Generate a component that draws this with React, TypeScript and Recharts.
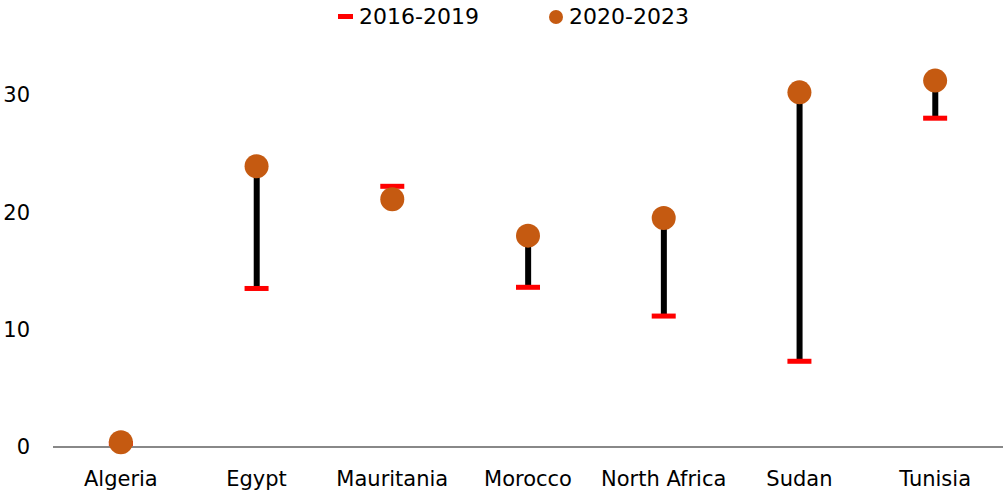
import { ComposedChart, Bar, Scatter, XAxis, YAxis } from 'recharts';

const countries = ['Algeria', 'Egypt', 'Mauritania', 'Morocco', 'North Africa', 'Sudan', 'Tunisia'];
const period1 = [0.3, 13.5, 22.2, 13.6, 11.15, 7.3, 28.0];
const period2 = [0.4, 23.9, 21.1, 18.0, 19.5, 30.2, 31.2];
const yTicks = [0, 10, 20, 30];

const data = countries.map((c, i) => ({
  country: c,
  p1: period1[i],
  p2: period2[i],
  range: [Math.min(period1[i], period2[i]), Math.max(period1[i], period2[i])],
}));

const font = 'DejaVu Sans, Verdana, sans-serif';
const dotColor = '#C55A11';

const Dash = (props: any) => {
  const { cx, cy } = props;
  if (cx == null || cy == null) return null;
  return <rect x={cx - 12} y={cy - 2.5} width={24} height={5} fill="#FF0000" />;
};

const Dot = (props: any) => {
  const { cx, cy } = props;
  if (cx == null || cy == null) return null;
  return <circle cx={cx} cy={cy} r={12} fill={dotColor} />;
};

export default function App() {
  return (
    <div style={{ position: 'absolute', left: 0, top: 0, width: 1003, height: 495, background: '#fff', fontFamily: font }}>
      <div style={{ position: 'absolute', top: 4, left: 0, width: 1003, display: 'flex', justifyContent: 'center', alignItems: 'center', gap: 70, fontSize: 22, color: '#000', zIndex: 2, paddingLeft: 24, boxSizing: 'border-box' }}>
        <div style={{ display: 'flex', alignItems: 'center', gap: 6 }}>
          <div style={{ width: 15, height: 5, background: '#FF0000' }} />
          <span>2016-2019</span>
        </div>
        <div style={{ display: 'flex', alignItems: 'center', gap: 6 }}>
          <div style={{ width: 14, height: 14, borderRadius: 7, background: dotColor }} />
          <span>2020-2023</span>
        </div>
      </div>
      <ComposedChart width={1003} height={495} data={data} margin={{ top: 36, right: 0, bottom: 4, left: 0 }}>
        <XAxis
          dataKey="country"
          axisLine={{ stroke: '#888888', strokeWidth: 2 }}
          tickLine={false}
          tick={{ fontSize: 21, fill: '#000', fontFamily: font }}
          tickMargin={18}
          height={44}
          interval={0}
        />
        <YAxis
          domain={[0, 35]}
          ticks={yTicks}
          axisLine={false}
          tickLine={false}
          tick={{ fontSize: 21, fill: '#000', fontFamily: font }}
          tickMargin={17}
          width={53}
        />
        <Bar dataKey="range" fill="#000" barSize={6} isAnimationActive={false} />
        <Scatter dataKey="p1" shape={<Dash />} isAnimationActive={false} />
        <Scatter dataKey="p2" shape={<Dot />} isAnimationActive={false} />
      </ComposedChart>
    </div>
  );
}
